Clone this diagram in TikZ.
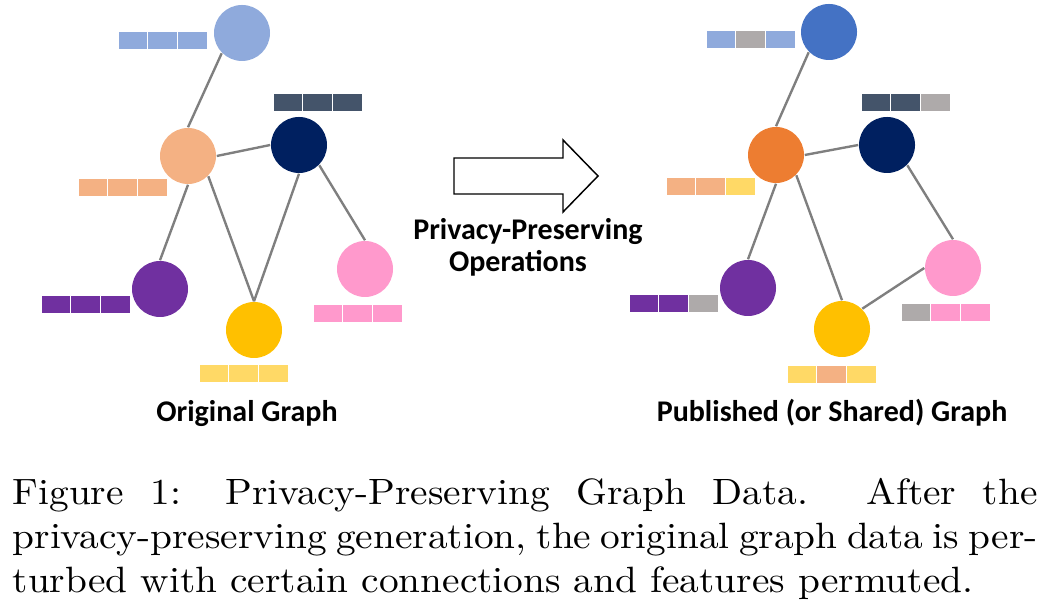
\documentclass[tikz,border=0pt]{standalone}
\usepackage{fontspec}
\newfontfamily\calib{Carlito}
\newfontfamily\capfont[FakeStretch = 1.075]{Latin Modern Roman}

\definecolor{lblue}{HTML}{8FAADC}
\definecolor{mblue}{HTML}{4472C4}
\definecolor{lorange}{HTML}{F4B183}
\definecolor{morange}{HTML}{ED7D31}
\definecolor{navy}{HTML}{002060}
\definecolor{slate}{HTML}{44546A}
\definecolor{violet}{HTML}{7030A0}
\definecolor{gold}{HTML}{FFC000}
\definecolor{lgold}{HTML}{FFD966}
\definecolor{rose}{HTML}{FF99CC}
\definecolor{swap}{HTML}{AEAAAA}
\definecolor{edgegray}{HTML}{7F7F7F}

\tikzset{
  vert/.style = {circle, minimum size = 15.3pt, inner sep = 0pt},
  link/.style = {draw = edgegray, line width = 0.65pt},
  cell/.style = {draw = white, line width = 0.3pt},
  lab/.style  = {font = \calib\bfseries\fontsize{8.2}{8.8}\selectfont, inner sep = 0pt, anchor = base}
}

% three feature cells: x, y, colours
\newcommand{\featbar}[5]{%
  \filldraw[cell, fill = #3] (#1, #2) rectangle ++(29.8, 18.3);
  \filldraw[cell, fill = #4] (#1 + 29.8, #2) rectangle ++(29.8, 18.3);
  \filldraw[cell, fill = #5] (#1 + 59.6, #2) rectangle ++(29.8, 18.3);}

% one justified caption line
\newcommand{\capline}[1]{\hbox to 280pt{#1}}

\begin{document}
\begin{tikzpicture} [x = 0.2732pt, y = -0.2732pt]
\useasboundingbox (0, 0) rectangle (1042, 605);

% original graph
\node[vert, fill = lblue]   (ltop)  at (242, 33) {};
\node[vert, fill = lorange] (lorg)  at (188, 156) {};
\node[vert, fill = navy]    (lnavy) at (299, 145) {};
\node[vert, fill = violet]  (lvio)  at (160, 289) {};
\node[vert, fill = gold]    (lgold) at (254, 330) {};
\node[vert, fill = rose]    (lrose) at (365, 269) {};
\draw[link] (ltop.225) -- (lorg.north);
\draw[link] (lorg.east) -- (lnavy.west);
\draw[link] (lorg.south) -- (lvio.north);
\draw[link] (lorg.-45) -- (lgold.north);
\draw[link] (lnavy.south) -- (lgold.north);
\draw[link] (lnavy.-45) -- (lrose.north);
\featbar{118}{31}{lblue}{lblue}{lblue}
\featbar{78}{178}{lorange}{lorange}{lorange}
\featbar{273}{93}{slate}{slate}{slate}
\featbar{41}{295}{violet}{violet}{violet}
\featbar{199}{364}{lgold}{lgold}{lgold}
\featbar{313}{304}{rose}{rose}{rose}
\node[lab] (lname) at (247, 421.5) {Original Graph};

% operation arrow
\draw[black, line width = 0.4pt] (454, 158) -- (563, 158) -- (563, 140) -- (598, 176)
  -- (563, 212) -- (563, 194) -- (454, 194) -- cycle;
\node[lab] (op1) at (528, 240) {Privacy-Preserving};
\node[lab] (op2) at (518, 272) {Operations};

% published graph
\node[vert, fill = mblue]   (rtop)  at (829, 32) {};
\node[vert, fill = morange] (rorg)  at (776, 155) {};
\node[vert, fill = navy]    (rnavy) at (887, 145) {};
\node[vert, fill = violet]  (rvio)  at (748, 288) {};
\node[vert, fill = gold]    (rgold) at (842, 329) {};
\node[vert, fill = rose]    (rrose) at (953, 268) {};
\draw[link] (rtop.225) -- (rorg.north);
\draw[link] (rorg.east) -- (rnavy.west);
\draw[link] (rorg.south) -- (rvio.north);
\draw[link] (rorg.-45) -- (rgold.north);
\draw[link] (rnavy.-45) -- (rrose.north);
\draw[link] (rgold.45) -- (rrose.west);
\featbar{706}{30}{lblue}{swap}{lblue}
\featbar{666}{177}{lorange}{lorange}{lgold}
\featbar{861}{93}{slate}{slate}{swap}
\featbar{629}{294}{violet}{violet}{swap}
\featbar{787}{365}{lgold}{lorange}{lgold}
\featbar{901}{303}{swap}{rose}{rose}
\node[lab] (rname) at (832, 421.5) {Published (or Shared) Graph};

% caption
\node[anchor = base west, inner sep = 0pt] (cap) at (12, 505) {\parbox[t]{280pt}{\capfont\hfuzz = 20pt
  \capline{Figure 1: Privacy-Preserving Graph Data. After the}
  \capline{privacy-preserving generation, the original graph data is per-}
  \hbox{turbed with certain connections and features permuted.}}};
\end{tikzpicture}
\end{document}
